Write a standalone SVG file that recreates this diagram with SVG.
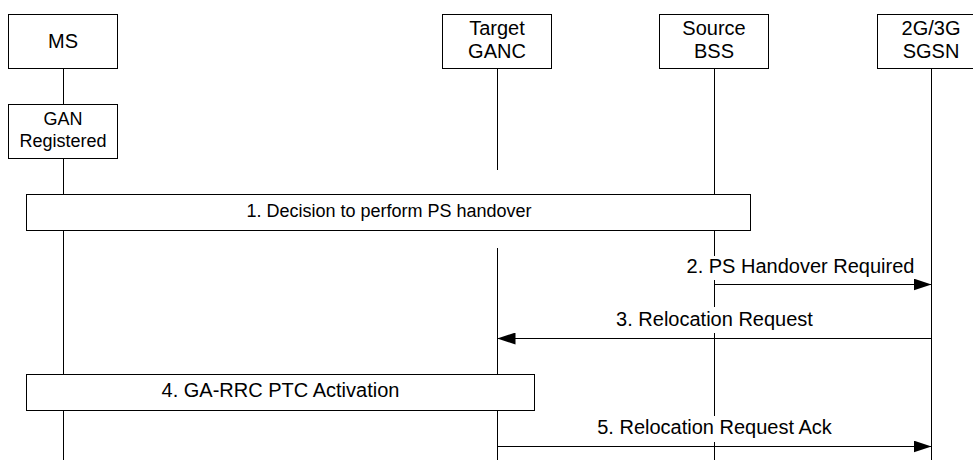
<svg xmlns="http://www.w3.org/2000/svg" width="973" height="460" viewBox="0 0 973 460">
<style>
  .box { fill: #fff; stroke: #000; stroke-width: 1; }
  .life { stroke: #000; stroke-width: 1; fill: none; }
  .msg { stroke: #000; stroke-width: 1; fill: none; }
  .t20 { font-family: "Liberation Sans", Arial, sans-serif; font-size: 20px; fill: #000; text-anchor: middle; }
  .t18 { font-family: "Liberation Sans", Arial, sans-serif; font-size: 18px; fill: #000; text-anchor: middle; }
  .lbg { fill: #fff; stroke: none; }
</style>
<defs>
  <marker id="ah" markerUnits="userSpaceOnUse" markerWidth="18" markerHeight="12" refX="18" refY="6" orient="auto">
    <path d="M0,0 L18,6 L0,12 z" fill="#000"/>
  </marker>
</defs>
<rect width="973" height="460" fill="#fff"/>

<g id="lifelines">
  <line class="life" x1="63.5" y1="68" x2="63.5" y2="460"/>
  <line class="life" x1="497.5" y1="68" x2="497.5" y2="170"/>
  <line class="life" x1="497.5" y1="248" x2="497.5" y2="460"/>
  <line class="life" x1="714.5" y1="68" x2="714.5" y2="460"/>
  <line class="life" x1="931.5" y1="68" x2="931.5" y2="460"/>
</g>

<g id="node-ms">
  <rect class="box" x="8.5" y="14.5" width="109" height="54"/>
  <text class="t20" x="63" y="48">MS</text>
</g>
<g id="node-target-ganc">
  <rect class="box" x="442.5" y="14.5" width="109" height="54"/>
  <text class="t20" x="497" y="35">Target</text>
  <text class="t20" x="497" y="58">GANC</text>
</g>
<g id="node-source-bss">
  <rect class="box" x="659.5" y="14.5" width="109" height="54"/>
  <text class="t20" x="714" y="35">Source</text>
  <text class="t20" x="714" y="58">BSS</text>
</g>
<g id="node-sgsn">
  <rect class="box" x="877.5" y="14.5" width="109" height="54"/>
  <text class="t20" x="931" y="35">2G/3G</text>
  <text class="t20" x="931" y="58">SGSN</text>
</g>
<g id="node-gan-registered">
  <rect class="box" x="8.5" y="104.5" width="109" height="54"/>
  <text class="t18" x="63" y="125">GAN</text>
  <text class="t18" x="63" y="147">Registered</text>
</g>
<g id="node-step1">
  <rect class="box" x="26.5" y="194.5" width="724" height="36"/>
  <text class="t18" x="389" y="217">1. Decision to perform PS handover</text>
</g>
<g id="node-step4">
  <rect class="box" x="26.5" y="374.5" width="508" height="36"/>
  <text class="t20" x="280.5" y="397">4. GA-RRC PTC Activation</text>
</g>

<g id="connectors">
  <rect class="lbg" x="684" y="256" width="234" height="24"/>
  <text class="t20" x="800.5" y="272.5">2. PS Handover Required</text>
  <line class="msg" x1="714.5" y1="284.5" x2="931.5" y2="284.5" marker-end="url(#ah)"/>

  <rect class="lbg" x="614" y="307" width="201" height="26"/>
  <text class="t20" x="714.5" y="325.5">3. Relocation Request</text>
  <line class="msg" x1="931.5" y1="338.5" x2="497.5" y2="338.5" marker-end="url(#ah)"/>

  <rect class="lbg" x="594" y="416" width="241" height="26"/>
  <text class="t20" x="714.5" y="434">5. Relocation Request Ack</text>
  <line class="msg" x1="497.5" y1="446.5" x2="931.5" y2="446.5" marker-end="url(#ah)"/>
</g>
</svg>
